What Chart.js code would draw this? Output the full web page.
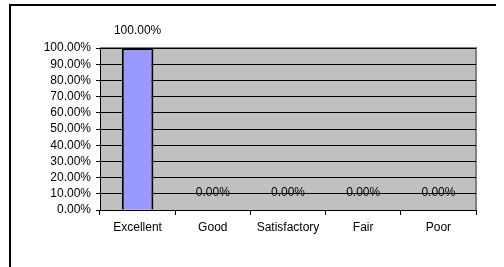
<!DOCTYPE html>
<html>
<head>
<meta charset="utf-8">
<script src="https://cdn.jsdelivr.net/npm/chart.js@4"></script>
<style>
    html, body { margin: 0; padding: 0; background: #ffffff; overflow: hidden; }
    #wrap { width: 504px; height: 267px; }
    canvas { display: block; }
</style>
</head>
<body>
<div id="wrap"><canvas id="chartRating" width="504" height="267"></canvas></div>
<script>
const categories = ['Excellent', 'Good', 'Satisfactory', 'Fair', 'Poor'];
const percentValues = [1, 0, 0, 0, 0];
const yTickMax = 1;
const yTickStep = 0.1;

const fontFamily = '"Liberation Sans", Arial, sans-serif';

function formatPct(v) {
    return (v * 100).toFixed(2) + '%';
}

// plot area fill + outer frame (only top and left edges are inside the picture)
const backdrop = {
    id: 'backdrop',
    beforeDraw(chart) {
        const c = chart.ctx;
        const a = chart.chartArea;
        c.save();
        c.strokeStyle = '#000000';
        c.lineWidth = 2;
        c.beginPath();
        c.moveTo(10, 267);
        c.lineTo(10, 5);
        c.lineTo(496, 5);
        c.stroke();
        c.fillStyle = '#c0c0c0';
        c.fillRect(a.left, a.top, a.right - a.left, a.bottom - a.top);
        c.strokeStyle = '#808080';
        c.lineWidth = 2;
        c.beginPath();
        c.moveTo(a.left, a.top);
        c.lineTo(a.right, a.top);
        c.lineTo(a.right, a.bottom);
        c.stroke();
        c.restore();
    }
};

// value labels above bars
const valueLabels = {
    id: 'valueLabels',
    afterDatasetsDraw(chart) {
        const c = chart.ctx;
        const meta = chart.getDatasetMeta(0);
        c.save();
        c.font = '12px ' + fontFamily;
        c.fillStyle = '#000000';
        c.textAlign = 'center';
        c.textBaseline = 'middle';
        meta.data.forEach((bar, i) => {
            c.fillText(formatPct(percentValues[i]), bar.x, bar.y - 17);
        });
        c.restore();
    }
};

const ctx = document.getElementById('chartRating').getContext('2d');
const myChart = new Chart(ctx, {
    type: 'bar',
    data: {
        labels: categories,
        datasets: [{
            data: percentValues,
            backgroundColor: '#9999ff',
            borderColor: '#000000',
            borderWidth: 2,
            barPercentage: 0.42,
            categoryPercentage: 1
        }]
    },
    options: {
        responsive: false,
        animation: false,
        layout: { padding: { left: 0, top: 48, right: 28, bottom: 0 } },
        scales: {
            y: {
                min: 0,
                max: yTickMax,
                afterFit: s => { s.width = 100; },
                grid: { color: '#000000', lineWidth: 1, tickLength: 4, drawTicks: true },
                border: { color: '#000000', width: 1 },
                ticks: {
                    stepSize: yTickStep,
                    autoSkip: false,
                    color: '#000000',
                    padding: 5,
                    font: { family: fontFamily, size: 12 },
                    callback: v => formatPct(v)
                }
            },
            x: {
                afterFit: s => { s.height = 57; },
                grid: { offset: true, drawOnChartArea: false, color: '#000000', tickLength: 5 },
                border: { color: '#000000', width: 1 },
                ticks: {
                    color: '#000000',
                    padding: 5,
                    autoSkip: false,
                    maxRotation: 0,
                    font: { family: fontFamily, size: 12 }
                }
            }
        },
        plugins: {
            legend: { display: false },
            tooltip: { enabled: false }
        }
    },
    plugins: [backdrop, valueLabels]
});
</script>
</body>
</html>
